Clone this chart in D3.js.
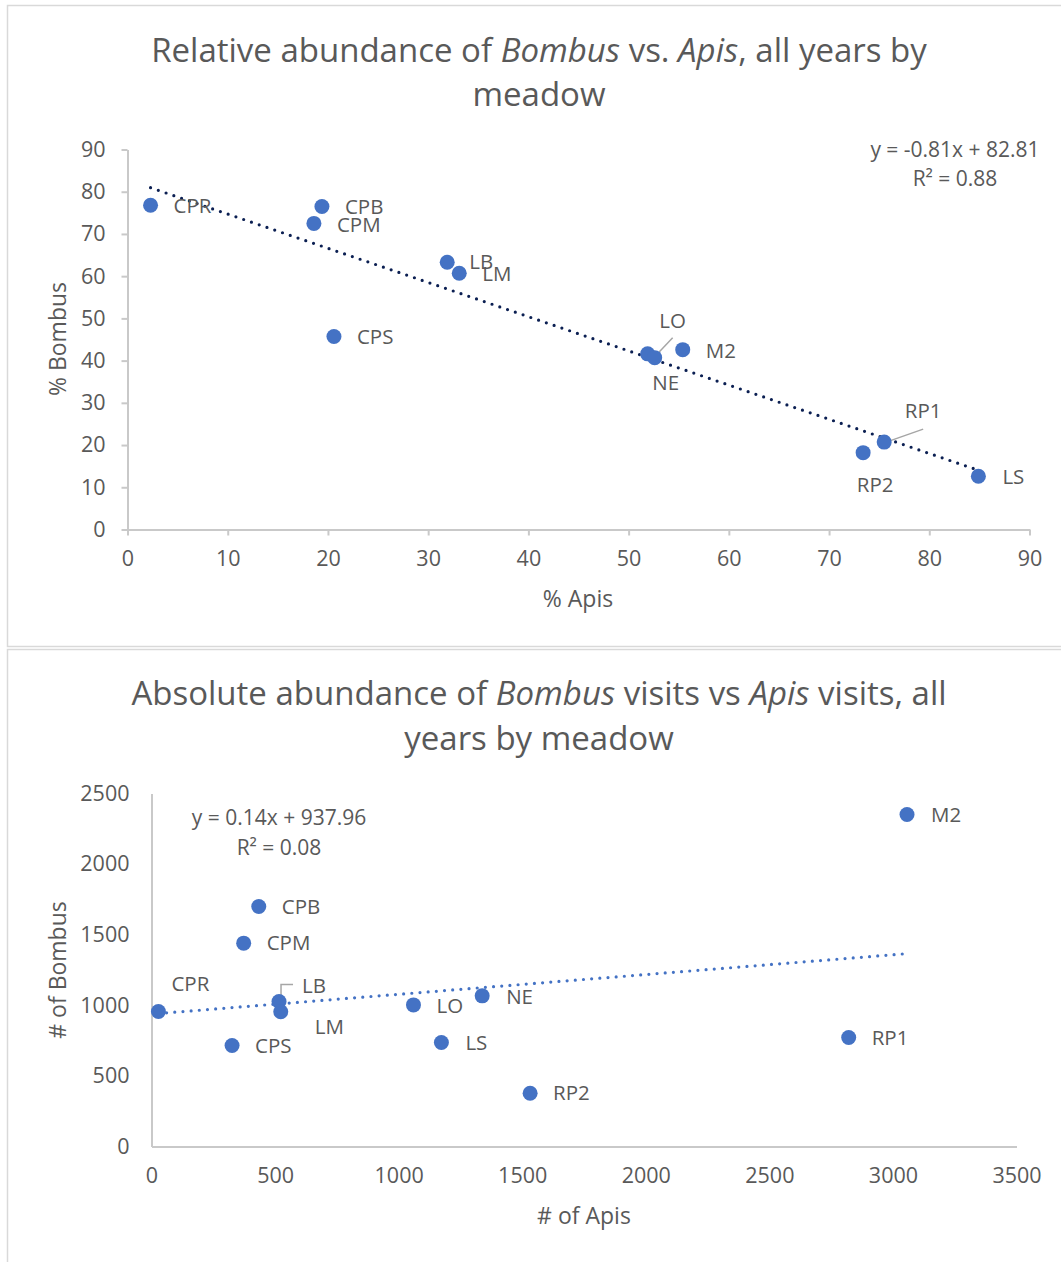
<!DOCTYPE html>
<html>
<head>
<meta charset="utf-8">
<script src="https://cdn.jsdelivr.net/npm/d3@7"></script>
<style>
  html, body { margin: 0; padding: 0; background: #ffffff; }
  svg { display: block; font-family: "Open Sans", sans-serif; }
</style>
</head>
<body>
<svg id="chart" width="1061" height="1262"></svg>
<script>
// ---------- DATA ----------
const meadows = ["CPR", "CPB", "CPM", "CPS", "LB", "LM", "LO", "NE", "M2", "RP1", "RP2", "LS"];

// Chart 1: relative abundance (%)
const pctApis   = [2.3, 19.4, 18.6, 20.6, 31.9, 33.1, 51.9, 52.6, 55.4, 75.5, 73.4, 84.9];
const pctBombus = [76.8, 76.5, 72.5, 45.7, 63.3, 60.7, 41.6, 40.7, 42.6, 20.7, 18.2, 12.6];
const pctTicksX = [0, 10, 20, 30, 40, 50, 60, 70, 80, 90];
const pctTicksY = [0, 10, 20, 30, 40, 50, 60, 70, 80, 90];
const pctTrend  = { slope: -0.81, intercept: 82.81, r2: 0.88 };

// Chart 2: absolute abundance (visits)
const numApis   = [28, 434, 373, 326, 516, 523, 1060, 1338, 3057, 2821, 1532, 1173];
const numBombus = [956, 1700, 1440, 715, 1027, 954, 1003, 1067, 2351, 772, 377, 737];
const numTicksX = [0, 500, 1000, 1500, 2000, 2500, 3000, 3500];
const numTicksY = [0, 500, 1000, 1500, 2000, 2500];
const numTrend  = { slope: 0.14, intercept: 937.96, r2: 0.08 };

// label placement (offsets from point in px, anchor, optional leader line)
const labels1 = {
  CPR: { dx: 23, dy: 1, a: "start" }, CPB: { dx: 23, dy: 0, a: "start" },
  CPM: { dx: 23, dy: 1, a: "start" }, CPS: { dx: 23, dy: 0, a: "start" },
  LB:  { dx: 22, dy: 0, a: "start" }, LM:  { dx: 23, dy: 1, a: "start" },
  LO:  { dx: 25, dy: -33, a: "middle", leader: [[25, -16], [7, 3]] },
  NE:  { dx: 11, dy: 25, a: "middle" }, M2: { dx: 23, dy: 1, a: "start" },
  RP1: { dx: 39, dy: -31, a: "middle", leader: [[39, -13], [2, 0]] },
  RP2: { dx: 12, dy: 32, a: "middle" }, LS: { dx: 24, dy: 1, a: "start" }
};
const labels2 = {
  CPR: { dx: 13, dy: -28, a: "start" }, CPB: { dx: 23, dy: 0, a: "start" },
  CPM: { dx: 23, dy: 0, a: "start" }, CPS: { dx: 23, dy: 0, a: "start" },
  LB:  { dx: 23, dy: -16, a: "start", leader: [[14, -17], [2, -17], [2, -3]] },
  LM:  { dx: 34, dy: 15, a: "start" }, LO: { dx: 23, dy: 1, a: "start" },
  NE:  { dx: 24, dy: 1, a: "start" }, M2: { dx: 24, dy: 0, a: "start" },
  RP1: { dx: 23, dy: 0, a: "start" }, RP2: { dx: 23, dy: 0, a: "start" },
  LS:  { dx: 24, dy: 0, a: "start" }
};

// ---------- DRAW ----------
const svg = d3.select("#chart");
const TXT = "#595959", AXIS = "#c9c9c9", PT = "#4472C4";
const FS_TITLE = 33, FS_TICK = 21.5, FS_LBL = 20.5, FS_EQ = 21, FS_AXT = 23;

function panel(y0, y1) {
  svg.append("rect").attr("x", 7.5).attr("y", y0 + 0.5)
    .attr("width", 1100).attr("height", y1 - y0)
    .attr("fill", "#fff").attr("stroke", "#d9d9d9").attr("stroke-width", 1.5);
}
panel(5, 646);
panel(649, 1300);

function title(lines, cx, ys) {
  lines.forEach((parts, i) => {
    const t = svg.append("text").attr("x", cx).attr("y", ys[i])
      .attr("text-anchor", "middle").attr("fill", TXT).attr("font-size", FS_TITLE);
    parts.forEach(p => t.append("tspan").attr("font-style", p.i ? "italic" : "normal").text(p.t));
  });
}

function drawChart(cfg) {
  const { xs, ys, xd, yd, xr, yr, ticksX, ticksY, trend, labels, tickLen, lineColor } = cfg;
  const x = d3.scaleLinear().domain(xd).range(xr);
  const y = d3.scaleLinear().domain(yd).range(yr);
  const g = svg.append("g");
  const fmt = d3.format("d");

  const ax = g.append("g").attr("transform", `translate(0,${yr[0]})`)
    .call(d3.axisBottom(x).tickValues(ticksX).tickFormat(fmt).tickSize(tickLen).tickPadding(31 - tickLen - 10).tickSizeOuter(0));
  const ay = g.append("g").attr("transform", `translate(${xr[0]},0)`)
    .call(d3.axisLeft(y).tickValues(ticksY).tickFormat(fmt).tickSize(tickLen).tickPadding(22 - tickLen).tickSizeOuter(0));
  [ax, ay].forEach(a => {
    a.select(".domain").attr("stroke", AXIS).attr("stroke-width", 2);
    a.selectAll(".tick line").attr("stroke", AXIS).attr("stroke-width", 2);
    a.selectAll("text").attr("fill", TXT).attr("font-size", FS_TICK)
      .attr("font-family", '"Open Sans", sans-serif');
  });
  if (tickLen === 0) { ax.selectAll(".tick line").remove(); ay.selectAll(".tick line").remove(); }

  // trendline
  const x0 = d3.min(xs), x1 = d3.max(xs);
  g.append("line")
    .attr("x1", x(x0)).attr("y1", y(trend.slope * x0 + trend.intercept))
    .attr("x2", x(x1)).attr("y2", y(trend.slope * x1 + trend.intercept))
    .attr("stroke", lineColor).attr("stroke-width", 3.2)
    .attr("stroke-linecap", "round").attr("stroke-dasharray", "0 8.2");

  // leader lines
  meadows.forEach((m, i) => {
    const L = labels[m];
    if (L.leader) {
      const px = x(xs[i]), py = y(ys[i]);
      g.append("polyline")
        .attr("points", L.leader.map(p => [px + p[0], py + p[1]].join(",")).join(" "))
        .attr("fill", "none").attr("stroke", "#a6a6a6").attr("stroke-width", 1.5);
    }
  });

  // points
  g.selectAll("circle.pt").data(meadows).join("circle").attr("class", "pt")
    .attr("cx", (d, i) => x(xs[i])).attr("cy", (d, i) => y(ys[i]))
    .attr("r", 7.5).attr("fill", PT);

  // labels
  g.selectAll("text.lbl").data(meadows).join("text").attr("class", "lbl")
    .attr("x", (d, i) => x(xs[i]) + labels[d].dx)
    .attr("y", (d, i) => y(ys[i]) + labels[d].dy)
    .attr("dy", "0.35em")
    .attr("text-anchor", d => labels[d].a)
    .attr("fill", TXT).attr("font-size", FS_LBL).text(d => d);
  return { x, y };
}

function txt(x, y, s, size, anchor) {
  return svg.append("text").attr("x", x).attr("y", y).attr("dy", "0.35em")
    .attr("text-anchor", anchor || "middle").attr("fill", TXT).attr("font-size", size).text(s);
}

// Chart 1
title([[{ t: "Relative abundance of " }, { t: "Bombus", i: 1 }, { t: " vs. " }, { t: "Apis", i: 1 }, { t: ", all years by" }],
       [{ t: "meadow" }]], 539, [62, 106]);
drawChart({
  xs: pctApis, ys: pctBombus, xd: [0, 90], yd: [0, 90], xr: [127.5, 1029.5], yr: [529.5, 149.5],
  ticksX: pctTicksX, ticksY: pctTicksY, trend: pctTrend, labels: labels1, tickLen: 6, lineColor: "#0b1f52"
});
txt(955, 150, `y = ${pctTrend.slope.toFixed(2)}x + ${pctTrend.intercept.toFixed(2)}`, FS_EQ);
txt(955, 179, `R² = ${pctTrend.r2.toFixed(2)}`, FS_EQ);
txt(578, 599, "% Apis", FS_AXT);
svg.append("text").attr("transform", "translate(58,339) rotate(-90)").attr("dy", "0.35em").attr("text-anchor", "middle")
  .attr("fill", TXT).attr("font-size", FS_AXT).text("% Bombus");

// Chart 2
title([[{ t: "Absolute abundance of " }, { t: "Bombus", i: 1 }, { t: " visits vs " }, { t: "Apis", i: 1 }, { t: " visits, all" }],
       [{ t: "years by meadow" }]], 539, [705, 750]);
drawChart({
  xs: numApis, ys: numBombus, xd: [0, 3500], yd: [0, 2500], xr: [151.5, 1016.5], yr: [1146.5, 793.5],
  ticksX: numTicksX, ticksY: numTicksY, trend: numTrend, labels: labels2, tickLen: 0, lineColor: PT
});
txt(279, 818, `y = ${numTrend.slope.toFixed(2)}x + ${numTrend.intercept.toFixed(2)}`, FS_EQ);
txt(279, 848, `R² = ${numTrend.r2.toFixed(2)}`, FS_EQ);
txt(584, 1216, "# of Apis", FS_AXT);
svg.append("text").attr("transform", "translate(58,970) rotate(-90)").attr("dy", "0.35em").attr("text-anchor", "middle")
  .attr("fill", TXT).attr("font-size", FS_AXT).text("# of Bombus");
</script>
</body>
</html>
